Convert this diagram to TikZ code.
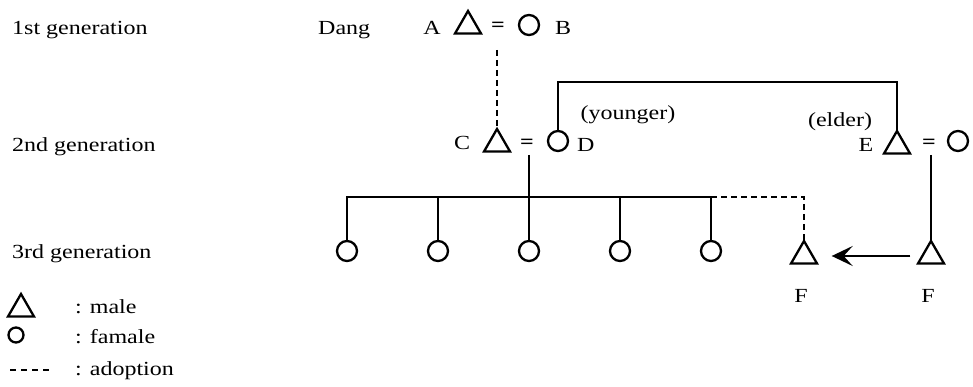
\documentclass[tikz,border=0pt]{standalone}
\usepackage{fontspec}
\setmainfont{Liberation Serif}[FakeStretch=1.2]
\usetikzlibrary{shapes.geometric,arrows.meta}
\begin{document}
\begin{tikzpicture}[x=1pt,y=-1pt,
  male/.style={regular polygon, regular polygon sides=3, draw, line width=2.3pt, minimum size=30pt, inner sep=0pt, outer sep=0pt},
  female/.style={circle, draw, line width=2.3pt, minimum size=20pt, inner sep=0pt, outer sep=0pt},
  lbl/.style={inner sep=0pt, font=\fontsize{20}{24}\selectfont},
  eqs/.style={inner sep=0pt, font=\fontsize{20}{24}\selectfont\bfseries},
  link/.style={line width=2.3pt},
  adopt/.style={line width=2.3pt, dash pattern=on 6pt off 4pt},
  adoptarrow/.style={line width=2.4pt, -{Stealth[length=21pt,width=20pt,inset=9pt]}}
]
\useasboundingbox (0,0) rectangle (973,387);
% generation labels
\node[lbl, anchor=base west] (g1) at (12,35) {1st generation};
\node[lbl, anchor=base west] (g2) at (12,152) {2nd generation};
\node[lbl, anchor=base west] (g3) at (12,258) {3rd generation};
% 1st generation
\node[lbl, anchor=base west] (dang) at (318,35) {Dang};
\node[lbl, anchor=base] (Alab) at (432,35) {A};
\node[male] (A) at (468,26) {};
\node[eqs] (eqAB) at (498,27) {=};
\node[female] (B) at (529,25) {};
\node[lbl, anchor=base west] (Blab) at (555,35) {B};
\coordinate (ABm) at (497,50);
% 2nd generation
\node[lbl, anchor=base] (Clab) at (462,150) {C};
\node[male] (C) at (497,144) {};
\node[eqs] (eqCD) at (527,144) {=};
\node[female] (D) at (558,141) {};
\node[lbl, anchor=base west] (Dlab) at (577,152) {D};
\node[lbl, anchor=base] (young) at (628,120) {(younger)};
\node[lbl, anchor=base] (old) at (840,127) {(elder)};
\node[lbl, anchor=base] (Elab) at (866,152) {E};
\node[male] (E) at (897,146) {};
\node[eqs] (eqEW) at (929,144) {=};
\node[female] (W) at (958,141) {};
\coordinate (sib) at (0,82);
\coordinate (CDm) at (529,155);
\coordinate (EWm) at (931,155);
% 3rd generation
\coordinate (bar) at (0,197);
\node[female] (k1) at (347,251) {};
\node[female] (k2) at (438,251) {};
\node[female] (k3) at (529,251) {};
\node[female] (k4) at (620,251) {};
\node[female] (k5) at (711,251) {};
\node[male] (F1) at (804,256) {};
\node[male] (F2) at (931,256) {};
\node[lbl, anchor=base] (F1lab) at (801,302) {F};
\node[lbl, anchor=base] (F2lab) at (928,302) {F};
% connectors
\draw[adopt] (ABm) -- (C.north);
\draw[link] (D.north) -- (D.north |- sib) -- (E.north |- sib) -- (E.north);
\draw[link] (CDm) -- (k3.north);
\draw[link] (k1.north) -- (k1.north |- bar) -- (k5.north |- bar) -- (k5.north);
\draw[link] (k2.north) -- (k2.north |- bar);
\draw[link] (k4.north) -- (k4.north |- bar);
\draw[adopt] (k5.north |- bar) -- (F1.north |- bar) -- (F1.north);
\draw[link] (EWm) -- (F2.north);
\draw[adoptarrow, shorten <=12pt, shorten >=19pt] (F2.west) -- (F1.east);
% legend
\node[male] (Lm) at (21,309) {};
\node[lbl, anchor=base west] (Lmt) at (75,313) {: male};
\node[female, minimum size=15pt] (Lf) at (16,335) {};
\node[lbl, anchor=base west] (Lft) at (75,343) {: famale};
\coordinate (La1) at (10,370);
\coordinate (La2) at (50,370);
\draw[adopt, dash pattern=on 6pt off 5pt] (La1) -- (La2);
\node[lbl, anchor=base west] (Lat) at (75,375) {: adoption};
\end{tikzpicture}
\end{document}
